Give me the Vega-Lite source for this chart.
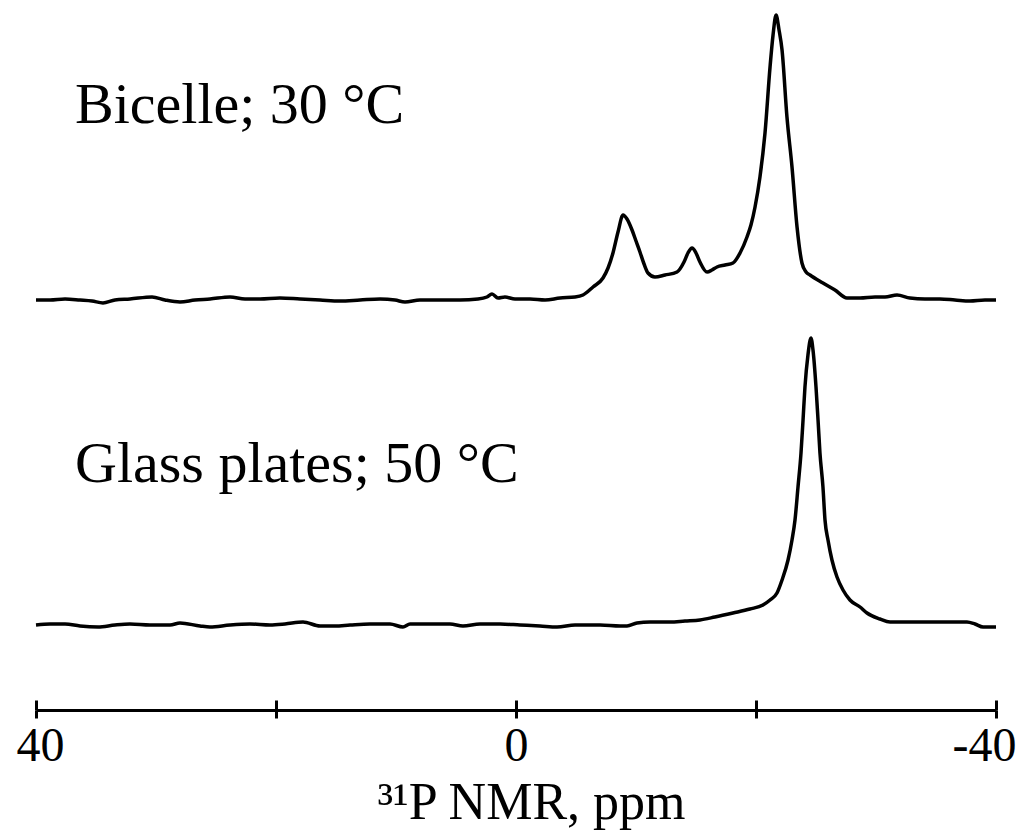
{
  "$schema": "https://vega.github.io/schema/vega-lite/v6.json",
  "width": 960,
  "height": 710,
  "autosize": {"type": "none"},
  "padding": {"left": 36, "top": 0, "right": 28, "bottom": 126},
  "background": "white",
  "config": {"view": {"stroke": null}, "font": "Liberation Serif"},
  "datasets": {
    "spectra": [
      {"sample": "Bicelle", "ppm": 40.0, "intensity": 0},
      {"sample": "Bicelle", "ppm": 38.83, "intensity": 0},
      {"sample": "Bicelle", "ppm": 37.58, "intensity": 1},
      {"sample": "Bicelle", "ppm": 36.33, "intensity": 0},
      {"sample": "Bicelle", "ppm": 35.33, "intensity": -1},
      {"sample": "Bicelle", "ppm": 34.42, "intensity": -3},
      {"sample": "Bicelle", "ppm": 33.42, "intensity": 0},
      {"sample": "Bicelle", "ppm": 32.17, "intensity": 1},
      {"sample": "Bicelle", "ppm": 30.33, "intensity": 3},
      {"sample": "Bicelle", "ppm": 29.25, "intensity": 0},
      {"sample": "Bicelle", "ppm": 28.0, "intensity": -2},
      {"sample": "Bicelle", "ppm": 26.75, "intensity": 0},
      {"sample": "Bicelle", "ppm": 25.5, "intensity": 1},
      {"sample": "Bicelle", "ppm": 23.83, "intensity": 3},
      {"sample": "Bicelle", "ppm": 22.58, "intensity": 1},
      {"sample": "Bicelle", "ppm": 21.33, "intensity": 1},
      {"sample": "Bicelle", "ppm": 19.67, "intensity": 2},
      {"sample": "Bicelle", "ppm": 18.0, "intensity": 1},
      {"sample": "Bicelle", "ppm": 16.33, "intensity": 0},
      {"sample": "Bicelle", "ppm": 14.67, "intensity": -1},
      {"sample": "Bicelle", "ppm": 13.0, "intensity": 0},
      {"sample": "Bicelle", "ppm": 11.33, "intensity": 1},
      {"sample": "Bicelle", "ppm": 10.08, "intensity": 0},
      {"sample": "Bicelle", "ppm": 9.25, "intensity": -2},
      {"sample": "Bicelle", "ppm": 8.0, "intensity": 0},
      {"sample": "Bicelle", "ppm": 6.33, "intensity": 0},
      {"sample": "Bicelle", "ppm": 4.67, "intensity": 0},
      {"sample": "Bicelle", "ppm": 3.17, "intensity": 1},
      {"sample": "Bicelle", "ppm": 2.42, "intensity": 3},
      {"sample": "Bicelle", "ppm": 2.0, "intensity": 6},
      {"sample": "Bicelle", "ppm": 1.5, "intensity": 2},
      {"sample": "Bicelle", "ppm": 0.92, "intensity": 3},
      {"sample": "Bicelle", "ppm": 0.08, "intensity": 1},
      {"sample": "Bicelle", "ppm": -1.17, "intensity": 1},
      {"sample": "Bicelle", "ppm": -2.42, "intensity": 0},
      {"sample": "Bicelle", "ppm": -3.67, "intensity": 2},
      {"sample": "Bicelle", "ppm": -4.92, "intensity": 3},
      {"sample": "Bicelle", "ppm": -5.58, "intensity": 5},
      {"sample": "Bicelle", "ppm": -6.42, "intensity": 13},
      {"sample": "Bicelle", "ppm": -7.25, "intensity": 22},
      {"sample": "Bicelle", "ppm": -7.67, "intensity": 32},
      {"sample": "Bicelle", "ppm": -8.08, "intensity": 47},
      {"sample": "Bicelle", "ppm": -8.5, "intensity": 68},
      {"sample": "Bicelle", "ppm": -8.92, "intensity": 85},
      {"sample": "Bicelle", "ppm": -9.25, "intensity": 81},
      {"sample": "Bicelle", "ppm": -9.67, "intensity": 70},
      {"sample": "Bicelle", "ppm": -10.0, "intensity": 59},
      {"sample": "Bicelle", "ppm": -10.33, "intensity": 48},
      {"sample": "Bicelle", "ppm": -10.67, "intensity": 36},
      {"sample": "Bicelle", "ppm": -11.0, "intensity": 27},
      {"sample": "Bicelle", "ppm": -11.58, "intensity": 23},
      {"sample": "Bicelle", "ppm": -12.42, "intensity": 25},
      {"sample": "Bicelle", "ppm": -13.42, "intensity": 28},
      {"sample": "Bicelle", "ppm": -14.0, "intensity": 38},
      {"sample": "Bicelle", "ppm": -14.33, "intensity": 47},
      {"sample": "Bicelle", "ppm": -14.67, "intensity": 52},
      {"sample": "Bicelle", "ppm": -15.0, "intensity": 47},
      {"sample": "Bicelle", "ppm": -15.33, "intensity": 38},
      {"sample": "Bicelle", "ppm": -15.92, "intensity": 28},
      {"sample": "Bicelle", "ppm": -16.33, "intensity": 30},
      {"sample": "Bicelle", "ppm": -16.75, "intensity": 33},
      {"sample": "Bicelle", "ppm": -17.42, "intensity": 35},
      {"sample": "Bicelle", "ppm": -18.08, "intensity": 37},
      {"sample": "Bicelle", "ppm": -18.67, "intensity": 47},
      {"sample": "Bicelle", "ppm": -19.25, "intensity": 63},
      {"sample": "Bicelle", "ppm": -19.58, "intensity": 75},
      {"sample": "Bicelle", "ppm": -19.92, "intensity": 93},
      {"sample": "Bicelle", "ppm": -20.33, "intensity": 123},
      {"sample": "Bicelle", "ppm": -20.75, "intensity": 167},
      {"sample": "Bicelle", "ppm": -21.17, "intensity": 233},
      {"sample": "Bicelle", "ppm": -21.42, "intensity": 265},
      {"sample": "Bicelle", "ppm": -21.67, "intensity": 285},
      {"sample": "Bicelle", "ppm": -21.92, "intensity": 270},
      {"sample": "Bicelle", "ppm": -22.17, "intensity": 250},
      {"sample": "Bicelle", "ppm": -22.58, "intensity": 183},
      {"sample": "Bicelle", "ppm": -23.0, "intensity": 133},
      {"sample": "Bicelle", "ppm": -23.42, "intensity": 73},
      {"sample": "Bicelle", "ppm": -23.83, "intensity": 37},
      {"sample": "Bicelle", "ppm": -24.17, "intensity": 28},
      {"sample": "Bicelle", "ppm": -24.5, "intensity": 25},
      {"sample": "Bicelle", "ppm": -25.58, "intensity": 17},
      {"sample": "Bicelle", "ppm": -26.58, "intensity": 10},
      {"sample": "Bicelle", "ppm": -27.58, "intensity": 2},
      {"sample": "Bicelle", "ppm": -28.67, "intensity": 2},
      {"sample": "Bicelle", "ppm": -29.92, "intensity": 3},
      {"sample": "Bicelle", "ppm": -30.75, "intensity": 3},
      {"sample": "Bicelle", "ppm": -31.75, "intensity": 5},
      {"sample": "Bicelle", "ppm": -32.83, "intensity": 2},
      {"sample": "Bicelle", "ppm": -34.08, "intensity": 1},
      {"sample": "Bicelle", "ppm": -35.33, "intensity": 1},
      {"sample": "Bicelle", "ppm": -36.58, "intensity": 0},
      {"sample": "Bicelle", "ppm": -37.83, "intensity": -1},
      {"sample": "Bicelle", "ppm": -39.08, "intensity": 0},
      {"sample": "Bicelle", "ppm": -40.0, "intensity": 0},
      {"sample": "Glass", "ppm": 40.0, "intensity": 0},
      {"sample": "Glass", "ppm": 38.83, "intensity": 1},
      {"sample": "Glass", "ppm": 37.58, "intensity": 1},
      {"sample": "Glass", "ppm": 36.33, "intensity": -1},
      {"sample": "Glass", "ppm": 34.83, "intensity": -2},
      {"sample": "Glass", "ppm": 33.42, "intensity": 0},
      {"sample": "Glass", "ppm": 32.17, "intensity": 1},
      {"sample": "Glass", "ppm": 30.5, "intensity": 0},
      {"sample": "Glass", "ppm": 28.83, "intensity": 0},
      {"sample": "Glass", "ppm": 28.0, "intensity": 2},
      {"sample": "Glass", "ppm": 26.33, "intensity": -1},
      {"sample": "Glass", "ppm": 25.5, "intensity": -2},
      {"sample": "Glass", "ppm": 23.83, "intensity": 0},
      {"sample": "Glass", "ppm": 22.17, "intensity": 1},
      {"sample": "Glass", "ppm": 20.5, "intensity": 0},
      {"sample": "Glass", "ppm": 19.25, "intensity": 1},
      {"sample": "Glass", "ppm": 17.75, "intensity": 3},
      {"sample": "Glass", "ppm": 16.33, "intensity": -1},
      {"sample": "Glass", "ppm": 15.08, "intensity": -1},
      {"sample": "Glass", "ppm": 13.83, "intensity": 0},
      {"sample": "Glass", "ppm": 12.17, "intensity": 1},
      {"sample": "Glass", "ppm": 10.5, "intensity": 1},
      {"sample": "Glass", "ppm": 9.42, "intensity": -2},
      {"sample": "Glass", "ppm": 8.83, "intensity": 1},
      {"sample": "Glass", "ppm": 7.17, "intensity": 1},
      {"sample": "Glass", "ppm": 5.5, "intensity": 1},
      {"sample": "Glass", "ppm": 4.42, "intensity": -1},
      {"sample": "Glass", "ppm": 3.0, "intensity": 1},
      {"sample": "Glass", "ppm": 1.33, "intensity": 1},
      {"sample": "Glass", "ppm": -0.33, "intensity": 0},
      {"sample": "Glass", "ppm": -2.0, "intensity": -1},
      {"sample": "Glass", "ppm": -3.42, "intensity": -2},
      {"sample": "Glass", "ppm": -4.92, "intensity": 0},
      {"sample": "Glass", "ppm": -7.0, "intensity": 0},
      {"sample": "Glass", "ppm": -8.67, "intensity": -1},
      {"sample": "Glass", "ppm": -9.25, "intensity": -1},
      {"sample": "Glass", "ppm": -10.08, "intensity": 2},
      {"sample": "Glass", "ppm": -11.17, "intensity": 3},
      {"sample": "Glass", "ppm": -12.83, "intensity": 3},
      {"sample": "Glass", "ppm": -14.08, "intensity": 4},
      {"sample": "Glass", "ppm": -15.33, "intensity": 5},
      {"sample": "Glass", "ppm": -16.58, "intensity": 8},
      {"sample": "Glass", "ppm": -18.08, "intensity": 12},
      {"sample": "Glass", "ppm": -19.5, "intensity": 16},
      {"sample": "Glass", "ppm": -20.58, "intensity": 20},
      {"sample": "Glass", "ppm": -21.17, "intensity": 25},
      {"sample": "Glass", "ppm": -21.75, "intensity": 32},
      {"sample": "Glass", "ppm": -22.17, "intensity": 45},
      {"sample": "Glass", "ppm": -22.67, "intensity": 65},
      {"sample": "Glass", "ppm": -23.0, "intensity": 85},
      {"sample": "Glass", "ppm": -23.25, "intensity": 105},
      {"sample": "Glass", "ppm": -23.5, "intensity": 138},
      {"sample": "Glass", "ppm": -23.75, "intensity": 172},
      {"sample": "Glass", "ppm": -23.92, "intensity": 205},
      {"sample": "Glass", "ppm": -24.08, "intensity": 238},
      {"sample": "Glass", "ppm": -24.33, "intensity": 270},
      {"sample": "Glass", "ppm": -24.58, "intensity": 287},
      {"sample": "Glass", "ppm": -24.75, "intensity": 275},
      {"sample": "Glass", "ppm": -25.0, "intensity": 238},
      {"sample": "Glass", "ppm": -25.17, "intensity": 205},
      {"sample": "Glass", "ppm": -25.33, "intensity": 172},
      {"sample": "Glass", "ppm": -25.58, "intensity": 138},
      {"sample": "Glass", "ppm": -25.75, "intensity": 105},
      {"sample": "Glass", "ppm": -26.0, "intensity": 85},
      {"sample": "Glass", "ppm": -26.33, "intensity": 65},
      {"sample": "Glass", "ppm": -26.75, "intensity": 48},
      {"sample": "Glass", "ppm": -27.25, "intensity": 35},
      {"sample": "Glass", "ppm": -27.83, "intensity": 25},
      {"sample": "Glass", "ppm": -28.67, "intensity": 18},
      {"sample": "Glass", "ppm": -29.25, "intensity": 12},
      {"sample": "Glass", "ppm": -30.33, "intensity": 6},
      {"sample": "Glass", "ppm": -31.17, "intensity": 3},
      {"sample": "Glass", "ppm": -32.83, "intensity": 3},
      {"sample": "Glass", "ppm": -34.5, "intensity": 3},
      {"sample": "Glass", "ppm": -36.17, "intensity": 3},
      {"sample": "Glass", "ppm": -37.58, "intensity": 3},
      {"sample": "Glass", "ppm": -38.25, "intensity": 1},
      {"sample": "Glass", "ppm": -38.92, "intensity": -2},
      {"sample": "Glass", "ppm": -40.0, "intensity": -2}
    ]
  },
  "layer": [
    {
      "data": {"name": "spectra"},
      "transform": [{"filter": "datum.sample === 'Bicelle'"}],
      "mark": {"type": "line", "color": "black", "strokeWidth": 3.5, "strokeJoin": "round", "interpolate": "monotone"},
      "encoding": {
        "x": {
          "field": "ppm", "type": "quantitative",
          "scale": {"domain": [40, -40], "nice": false},
          "axis": {
            "orient": "bottom",
            "values": [40, 20, 0, -20, -40],
            "labelExpr": "datum.value === 40 ? '40' : datum.value === 0 ? '0' : datum.value === -40 ? '-40' : ''",
            "grid": false,
            "domainColor": "black", "domainWidth": 3,
            "tickColor": "black", "tickWidth": 3, "tickSize": 8,
            "labelFont": "Liberation Serif", "labelFontSize": 48, "labelColor": "black", "labelPadding": 4,
            "labelOverlap": false, "labelBound": false,
            "labelFlush": true, "labelFlushOffset": 20,
            "title": "³¹P NMR, ppm",
            "titleFont": "Liberation Serif", "titleFontSize": 52, "titleFontWeight": "normal", "titleColor": "black",
            "titlePadding": 7, "titleX": 495
          }
        },
        "y": {"field": "intensity", "type": "quantitative", "scale": {"domain": [-410, 300], "nice": false, "zero": false}, "axis": null}
      }
    },
    {
      "data": {"name": "spectra"},
      "transform": [{"filter": "datum.sample === 'Glass'"}],
      "mark": {"type": "line", "color": "black", "strokeWidth": 3.5, "strokeJoin": "round", "interpolate": "monotone"},
      "encoding": {
        "x": {
          "field": "ppm", "type": "quantitative",
          "scale": {"domain": [40, -40], "nice": false},
          "axis": {
            "orient": "top", "offset": -710,
            "values": [40, 20, 0, -20, -40],
            "grid": false, "domain": false, "labels": false, "title": null,
            "tickColor": "black", "tickWidth": 3, "tickSize": 10
          }
        },
        "y": {"field": "intensity", "type": "quantitative", "scale": {"domain": [-85, 625], "nice": false, "zero": false}, "axis": null}
      }
    },
    {
      "data": {"values": [{}]},
      "mark": {"type": "text", "align": "left", "baseline": "alphabetic", "font": "Liberation Serif", "fontSize": 58, "color": "black"},
      "encoding": {
        "x": {"datum": 36.75, "type": "quantitative", "axis": null},
        "y": {"datum": 177, "type": "quantitative", "scale": {"domain": [-410, 300], "nice": false, "zero": false}, "axis": null},
        "text": {"value": "Bicelle; 30 °C"}
      }
    },
    {
      "data": {"values": [{}]},
      "mark": {"type": "text", "align": "left", "baseline": "alphabetic", "font": "Liberation Serif", "fontSize": 58, "color": "black"},
      "encoding": {
        "x": {"datum": 36.75, "type": "quantitative", "axis": null},
        "y": {"datum": 143, "type": "quantitative", "scale": {"domain": [-85, 625], "nice": false, "zero": false}, "axis": null},
        "text": {"value": "Glass plates; 50 °C"}
      }
    }
  ],
  "resolve": {"scale": {"y": "independent"}, "axis": {"x": "independent"}}
}
